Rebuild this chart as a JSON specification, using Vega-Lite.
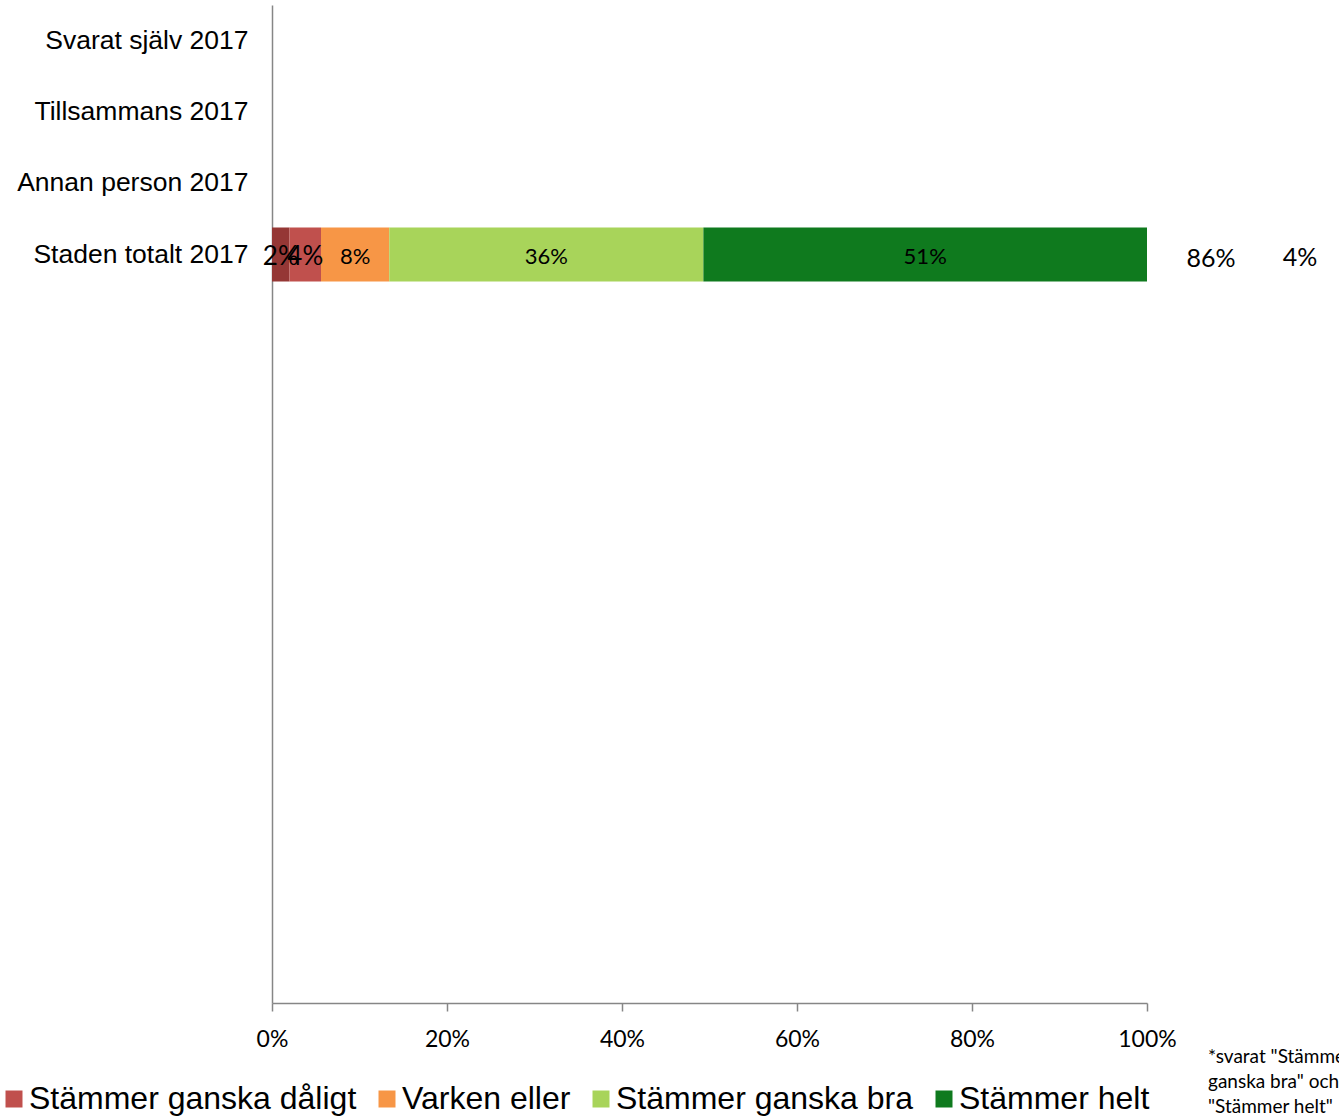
{
  "$schema": "https://vega.github.io/schema/vega-lite/v6.json",
  "width": 875,
  "height": 998,
  "autosize": {"type": "none"},
  "padding": {"left": 272, "top": 5, "right": 192, "bottom": 114},
  "background": "white",
  "config": {"view": {"stroke": null}},
  "datasets": {
    "bars": [
      {"grupp": "Staden totalt 2017", "svar": "Stämmer inte alls", "andel": 0.02, "ord": 1},
      {"grupp": "Staden totalt 2017", "svar": "Stämmer ganska dåligt", "andel": 0.036, "ord": 2},
      {"grupp": "Staden totalt 2017", "svar": "Varken eller", "andel": 0.078, "ord": 3},
      {"grupp": "Staden totalt 2017", "svar": "Stämmer ganska bra", "andel": 0.359, "ord": 4},
      {"grupp": "Staden totalt 2017", "svar": "Stämmer helt", "andel": 0.507, "ord": 5}
    ],
    "sums": [
      {"grupp": "Staden totalt 2017", "typ": "positiv", "summa": "86%"},
      {"grupp": "Staden totalt 2017", "typ": "negativ", "summa": "4%"}
    ],
    "not": [
      {"grupp": "_10", "text": "*svarat \"Stämmer\nganska bra\" och\n\"Stämmer helt\""}
    ]
  },
  "layer": [
    {
      "data": {"name": "bars"},
      "mark": {"type": "bar"},
      "encoding": {
        "y": {
          "field": "grupp",
          "type": "nominal",
          "scale": {
            "domain": ["Svarat själv 2017", "Tillsammans 2017", "Annan person 2017", "Staden totalt 2017", "_1", "_2", "_3", "_4", "_5", "_6", "_7", "_8", "_9", "_10"],
            "paddingInner": 0.24,
            "paddingOuter": 0.12
          },
          "axis": {
            "title": null,
            "ticks": false,
            "tickSize": 0,
            "labelPadding": 24,
            "labelFont": "Liberation Sans",
            "labelFontSize": 26.5,
            "labelColor": "black",
            "labelLimit": 400,
            "domainColor": "#868686",
            "domainWidth": 1.5,
            "labelExpr": "indexof(datum.label, '_') == 0 ? '' : datum.label"
          }
        },
        "x": {
          "field": "andel",
          "type": "quantitative",
          "stack": "zero",
          "scale": {"domain": [0, 1], "nice": false},
          "axis": {
            "title": null,
            "values": [0, 0.2, 0.4, 0.6, 0.8, 1],
            "format": ".0%",
            "grid": false,
            "labelFlush": false,
            "tickSize": 8,
            "tickColor": "#868686",
            "domainColor": "#868686",
            "domainWidth": 1.5,
            "tickWidth": 1.5,
            "labelPadding": 17,
            "labelFont": "Lato",
            "labelFontSize": 23,
            "labelColor": "black"
          }
        },
        "order": {"field": "ord"},
        "color": {
          "field": "svar",
          "type": "nominal",
          "scale": {
            "domain": ["Stämmer inte alls", "Stämmer ganska dåligt", "Varken eller", "Stämmer ganska bra", "Stämmer helt"],
            "range": ["#953735", "#C0504D", "#F79646", "#A8D45A", "#0F7A1E"]
          },
          "legend": {
            "title": null,
            "values": ["Stämmer ganska dåligt", "Varken eller", "Stämmer ganska bra", "Stämmer helt"],
            "orient": "none",
            "direction": "horizontal",
            "columns": 4,
            "legendX": -274,
            "legendY": 1078,
            "symbolType": "square",
            "symbolSize": 289,
            "symbolStrokeWidth": 0,
            "labelFont": "Liberation Sans",
            "labelFontSize": 32,
            "labelColor": "black",
            "labelOffset": -1,
            "labelLimit": 500,
            "columnPadding": 14
          }
        }
      }
    },
    {
      "data": {"name": "bars"},
      "mark": {"type": "text", "font": "Lato", "color": "black", "dy": 2},
      "encoding": {
        "y": {"field": "grupp", "type": "nominal"},
        "x": {"field": "andel", "type": "quantitative", "stack": "zero", "bandPosition": 0.5},
        "order": {"field": "ord"},
        "text": {"field": "andel", "type": "quantitative", "format": ".0%"},
        "size": {"condition": {"test": "datum.andel < 0.05", "value": 26}, "value": 22}
      }
    },
    {
      "data": {"name": "sums"},
      "transform": [{"filter": "datum.typ == 'positiv'"}],
      "mark": {"type": "text", "font": "Lato", "fontSize": 25, "color": "black", "dx": 64, "dy": 4},
      "encoding": {
        "y": {"field": "grupp", "type": "nominal"},
        "x": {"datum": 1},
        "text": {"field": "summa"}
      }
    },
    {
      "data": {"name": "sums"},
      "transform": [{"filter": "datum.typ == 'negativ'"}],
      "mark": {"type": "text", "font": "Lato", "fontSize": 25, "color": "black", "dx": 153, "dy": 3},
      "encoding": {
        "y": {"field": "grupp", "type": "nominal"},
        "x": {"datum": 1},
        "text": {"field": "summa"}
      }
    },
    {
      "data": {"name": "not"},
      "mark": {"type": "text", "font": "Lato", "fontSize": 19, "color": "black", "align": "left", "baseline": "middle", "lineBreak": "\n", "lineHeight": 25, "dx": 61, "dy": 90},
      "encoding": {
        "y": {"field": "grupp", "type": "nominal"},
        "x": {"datum": 1},
        "text": {"field": "text"}
      }
    }
  ]
}
